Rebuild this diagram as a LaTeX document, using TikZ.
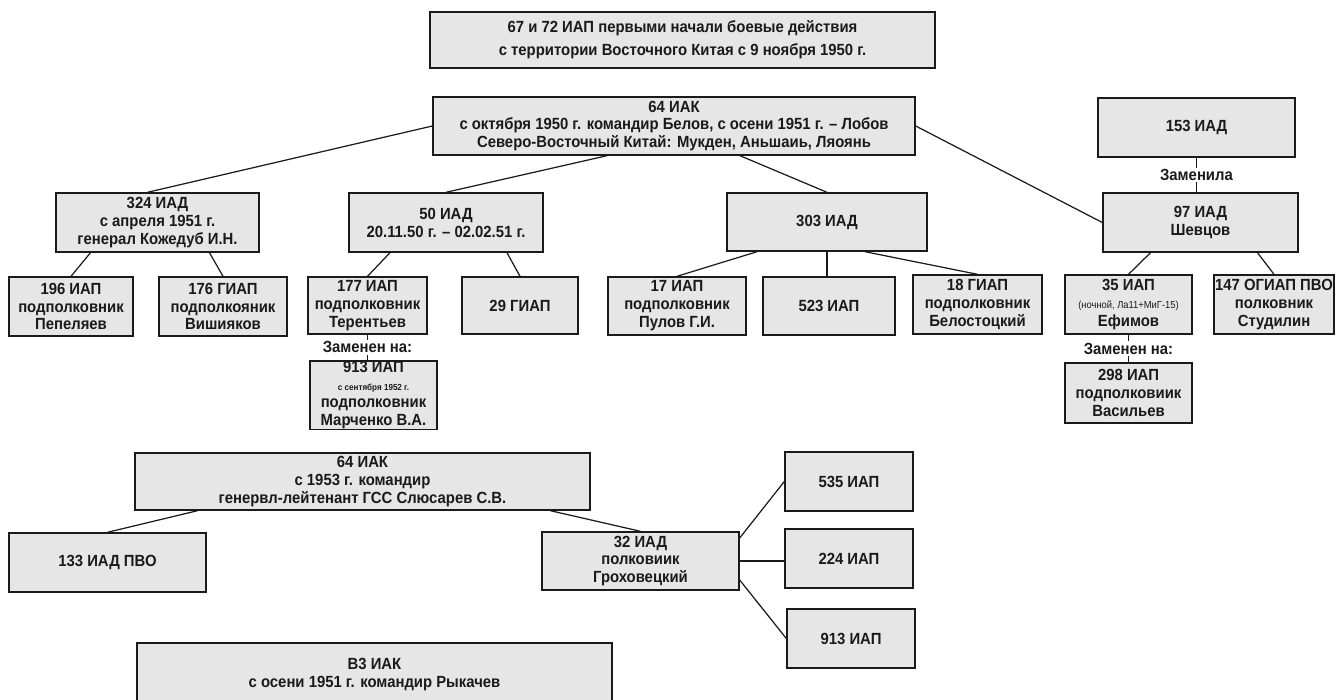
\documentclass[tikz,border=0pt]{standalone}
\usepackage{fontspec}
\setmainfont{Liberation Sans}[FakeStretch=0.92]
\usetikzlibrary{positioning,calc}
\definecolor{boxfill}{HTML}{E6E6E6}
\definecolor{ink}{HTML}{1A1A1A}
\newcommand{\smallline}[1]{{\fontsize{5}{5.5}\selectfont #1}}

\begin{document}
\begin{tikzpicture}[x=0.02cm, y=-0.02cm,
    unit/.style={draw=ink, fill=boxfill, line width=0.8pt, inner sep=0pt, align=center, text=ink, font=\bfseries\fontsize{9.2}{10.2}\selectfont},
    size/.style 2 args={minimum width=#1*0.02cm, minimum height=#2*0.02cm},
    link/.style={draw=ink, line width=0.7pt},
    note/.style={fill=white, inner sep=1pt, text=ink, font=\bfseries\fontsize{9.2}{10.2}\selectfont}
]
    \useasboundingbox (0,0) rectangle (1336,700);

    \node[unit, size={505}{56}] (first) at (682.5,40) {67 и 72 ИАП первыми начали боевые действия\\[3pt] с территории Восточного Китая с 9 ноября 1950 г.};

    % 64 IAK 1950-1951
    \node[unit, size={482}{58}] (k64) at (674,126) {64 ИАК\\ с октября 1950 г. командир Белов, с осени 1951 г. -- Лобов\\ Северо-Восточный Китай: Мукден, Аньшаиь, Ляоянь};

    \node[unit, size={203}{59}] (d324) at (157.5,222.5) {324 ИАД\\ с апреля 1951 г.\\ генерал Кожедуб И.Н.};
    \node[unit, size={194}{59}] (d50) at (446,222.5) {50 ИАД\\ 20.11.50 г. -- 02.02.51 г.};
    \node[unit, size={200}{58}] (d303) at (827,222) {303 ИАД};
    \node[unit, size={197}{59}] (d153) at (1196.5,127.5) {153 ИАД};
    \node[unit, size={195}{59}] (d97) at (1200.5,222.5) {97 ИАД\\ Шевцов};

    \node[unit, size={124}{59}] (r196) at (71,306.5) {196 ИАП\\ подполковник\\ Пепеляев};
    \node[unit, size={128}{59}] (r176) at (223,306.5) {176 ГИАП\\ подполкояник\\ Вишияков};
    \node[unit, size={119}{57}] (r177) at (367.5,305.5) {177 ИАП\\ подполковник\\ Терентьев};
    \node[unit, size={116}{57}] (g29) at (520,305.5) {29 ГИАП};
    \node[unit, size={127}{64}] (r913) at (373.5,395) {913 ИАП\\ \smallline{с сентября 1952 г.}\\ подполковник\\ Марченко В.А.};
    \node[unit, size={138}{58}] (r17) at (677,306) {17 ИАП\\ подполковник\\ Пулов Г.И.};
    \node[unit, size={132}{58}] (r523) at (829,306) {523 ИАП};
    \node[unit, size={129}{59}] (g18) at (977.5,304.5) {18 ГИАП\\ подполковник\\ Белостоцкий};
    \node[unit, size={127}{59}] (r35) at (1128.5,304.5) {35 ИАП\\ {\mdseries\fontsize{5.8}{6.8}\selectfont (ночной, Ла11+МиГ-15)}\\ Ефимов};
    \node[unit, size={120}{59}] (o147) at (1274,304.5) {147 ОГИАП ПВО\\ полковник\\ Студилин};
    \node[unit, size={127}{60}] (r298) at (1128.5,393) {298 ИАП\\ подполковиик\\ Васильев};

    \draw[link] (k64.west) -- ($(d324.north)+(-10,0)$);
    \draw[link] ($(k64.south)+(-67,0)$) -- (d50.north);
    \draw[link] ($(k64.south)+(66,0)$) -- (d303.north);
    \draw[link] (k64.east) -- (d97.west);

    \draw[link] ($(d324.south)+(-67,0)$) -- (r196.north);
    \draw[link] ($(d324.south)+(52,0)$) -- (r176.north);
    \draw[link] ($(d50.south)+(-56,0)$) -- (r177.north);
    \draw[link] ($(d50.south)+(61,0)$) -- (g29.north);
    \draw[link] ($(d303.south)+(-70,0)$) -- (r17.north);
    \draw[link] (d303.south) -- (d303.south |- r523.north);
    \draw[link] ($(d303.south)+(38,0)$) -- (g18.north);
    \draw[link] ($(d97.south)+(-50,0)$) -- (r35.north);
    \draw[link] ($(d97.south)+(57,0)$) -- (o147.north);

    % replacements
    \draw[link] (d153.south) -- node[note] {Заменила} (d153.south |- d97.north);
    \draw[link] (r177.south) -- node[note] {Заменен на:} (r177.south |- r913.north);
    \draw[link] (r35.south) -- node[note] {Заменен на:} (r35.south |- r298.north);

    % 64 IAK from 1953
    \node[unit, size={455}{57}] (k64b) at (362.5,481.5) {64 ИАК\\ с 1953 г. командир\\ генервл-лейтенант ГСС Слюсарев С.В.};
    \node[unit, size={197}{59}] (a133) at (107.5,562.5) {133 ИАД ПВО};
    \node[unit, size={197}{58}] (d32) at (640.5,561) {32 ИАД\\ полковиик\\ Гроховецкий};
    \node[unit, size={128}{59}] (r535) at (849,481.5) {535 ИАП};
    \node[unit, size={128}{59}] (r224) at (849,558.5) {224 ИАП};
    \node[unit, size={128}{59}] (r913b) at (851,638.5) {913 ИАП};

    \draw[link] ($(k64b.south)+(-165,0)$) -- (a133.north);
    \draw[link] ($(k64b.south)+(188,0)$) -- (d32.north);
    \draw[link] ($(d32.east)+(0,-23)$) -- (r535.west);
    \draw[link] (d32.east) -- (d32.east -| r224.west);
    \draw[link] ($(d32.east)+(0,19)$) -- (r913b.west);

    % 83 IAK
    \node[unit, size={475}{63}] (k83) at (374.5,674.5) {В3 ИАК\\ с осени 1951 г. командир Рыкачев};
\end{tikzpicture}
\end{document}
